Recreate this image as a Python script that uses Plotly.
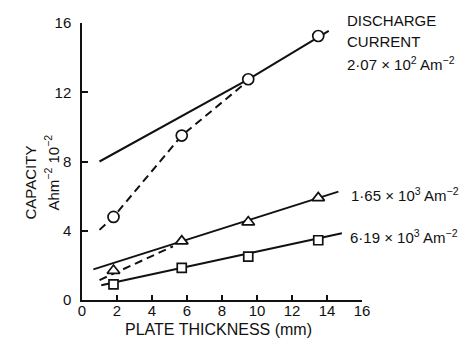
import plotly.graph_objects as go

# Measured points (plate thickness mm, capacity Ahm^-2 10^-2)
thickness = [1.8, 5.7, 9.5, 13.5]
cap_207 = [4.8, 9.5, 12.75, 15.25]
cap_165 = [1.7, 3.4, 4.5, 5.9]
cap_619 = [0.9, 1.85, 2.5, 3.45]

# Hand-drawn solid lines
fit_207_x = [1.0, 9.5, 14.1]
fit_207_y = [8.0, 12.75, 15.55]
fit_165_x = [0.65, 14.65]
fit_165_y = [1.77, 6.26]
fit_619_x = [1.1, 14.85]
fit_619_y = [0.85, 3.85]

# Dashed curves
dash_207_x = [1.0, 1.8, 5.7, 9.3]
dash_207_y = [4.05, 4.8, 9.5, 12.5]
dash_165_x = [1.0, 5.2]
dash_165_y = [1.15, 3.1]

x_ticks = [0, 2, 4, 6, 8, 10, 12, 14, 16]
y_ticks = [0, 4, 8, 12, 16]

FONT = "Liberation Sans, Arial, sans-serif"
BLK = "#111111"

fig = go.Figure()

def line(x, y, dash="solid"):
    fig.add_trace(go.Scatter(x=x, y=y, mode="lines",
                             line=dict(color=BLK, width=2, dash=dash),
                             hoverinfo="skip", showlegend=False, cliponaxis=False))

line(fit_207_x, fit_207_y)
line(fit_165_x, fit_165_y)
line(fit_619_x, fit_619_y)
line(dash_207_x, dash_207_y, "8px,5px")
line(dash_165_x, dash_165_y, "8px,5px")

def pts(y, symbol, size):
    fig.add_trace(go.Scatter(x=thickness, y=y, mode="markers",
                             marker=dict(symbol=symbol, size=size, color="white",
                                         line=dict(color=BLK, width=1.7)),
                             showlegend=False, cliponaxis=False))

pts(cap_207, "circle", 11)
pts(cap_165, "triangle-up", 11)
pts(cap_619, "square", 9)

ann = [
    dict(x=345, y=20, text="DISCHARGE"),
    dict(x=345, y=41, text="CURRENT"),
    dict(x=345, y=63, text="2·07 × 10<sup>2</sup> Am<sup>−2</sup>"),
    dict(x=349, y=194, text="1·65 × 10<sup>3</sup> Am<sup>−2</sup>"),
    dict(x=348, y=236, text="6·19 × 10<sup>3</sup> Am<sup>−2</sup>"),
]
L, R, T, B = 82, 112, 23, 40
W, H = 474, 340
pw, ph = W - L - R, H - T - B
for a in ann:
    fig.add_annotation(x=(a["x"] - L) / pw, y=(H - B - a["y"]) / ph, xref="paper", yref="paper",
                       text=a["text"], showarrow=False, xanchor="left", yanchor="middle",
                       font=dict(family=FONT, size=15, color=BLK))

fig.add_annotation(x=(19 - L) / pw, y=(H - B - 183) / ph, xref="paper", yref="paper",
                   text="CAPACITY", showarrow=False, textangle=-90,
                   font=dict(family=FONT, size=15, color=BLK))
fig.add_annotation(x=(41 - L) / pw, y=(H - B - 173) / ph, xref="paper", yref="paper",
                   text="Ahm<sup>−2</sup> 10<sup>−2</sup>", showarrow=False, textangle=-90,
                   font=dict(family=FONT, size=15, color=BLK))
fig.add_annotation(x=(218 - L) / pw, y=(H - B - 340) / ph, xref="paper", yref="paper",
                   text="PLATE THICKNESS (mm)", showarrow=False, yanchor="bottom",
                   font=dict(family=FONT, size=16, color=BLK))

fig.update_layout(
    width=W, height=H,
    margin=dict(l=L, r=R, t=T, b=B, pad=0),
    paper_bgcolor="white", plot_bgcolor="white",
    font=dict(family=FONT, size=15, color=BLK),
)
fig.update_xaxes(range=[0, 16], tickvals=x_ticks, ticks="inside", ticklen=5,
                 tickcolor=BLK, tickwidth=1.5, showline=True, linecolor=BLK, linewidth=1.5,
                 showgrid=False, zeroline=False, ticklabelstandoff=-4)
fig.update_yaxes(range=[0, 16], tickvals=y_ticks, ticks="inside", ticklen=6,
                 tickcolor=BLK, tickwidth=1.5, showline=True, linecolor=BLK, linewidth=1.5,
                 showgrid=False, zeroline=False, ticklabelstandoff=6)

fig.write_html("out.html")
